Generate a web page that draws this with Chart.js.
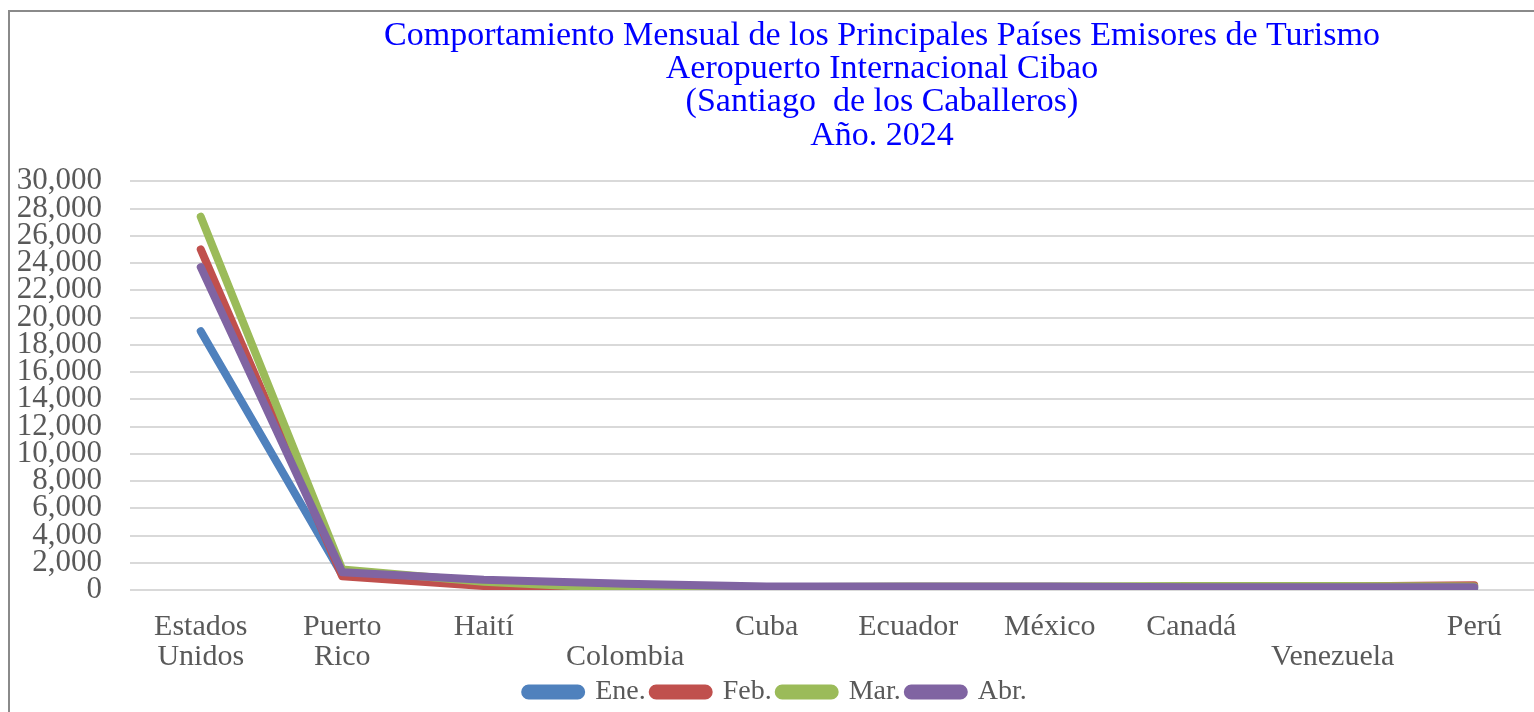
<!DOCTYPE html>
<html>
<head>
<meta charset="utf-8">
<script src="https://cdn.jsdelivr.net/npm/chart.js@4.4.1/dist/chart.umd.min.js"></script>
<style>
  html, body { margin: 0; padding: 0; background: #fff; overflow: hidden; }
  #frame {
    position: absolute; left: 8px; top: 10px; width: 1600px; height: 760px;
    border: 2px solid #8a8a8a; box-sizing: border-box;
  }
  #wrap { position: absolute; left: 0; top: 0; width: 1545px; height: 712px; }
</style>
</head>
<body>
<div id="frame"></div>
<div id="wrap"><canvas id="myChart"></canvas></div>
<script>
const labels = [
    ["Estados", "Unidos"], ["Puerto", "Rico"], "Haití", ["", "Colombia"], "Cuba",
    "Ecuador", "México", "Canadá", ["", "Venezuela"], "Perú"
];

const ene = [19000, 1100, 350, 300, 200, 200, 200, 150, 150, 150];
const feb = [25000, 1000, 300, 250, 200, 200, 200, 200, 250, 350];
const mar = [27400, 1500, 600, 100, 200, 250, 250, 300, 300, 250];
const abr = [23700, 1300, 750, 450, 250, 250, 250, 200, 200, 200];

const titleLines = [
    "Comportamiento Mensual de los Principales Países Emisores de Turismo",
    "Aeropuerto Internacional Cibao",
    "(Santiago  de los Caballeros)",
    "Año. 2024"
];

const serif = "'Liberation Serif', 'Times New Roman', serif";

// later months are painted over earlier ones, like the original
function series(label, color, values, order) {
    return {
        label: label,
        data: values,
        order: order,
        borderColor: color,
        backgroundColor: color,
        borderWidth: 8,
        borderCapStyle: "round",
        borderJoinStyle: "round",
        pointRadius: 0,
        tension: 0,
    };
}

const data = {
    labels: labels,
    datasets: [
        series("Ene.", "#4F81BD", ene, 3),
        series("Feb.", "#C0504D", feb, 2),
        series("Mar.", "#9BBB59", mar, 1),
        series("Abr.", "#8064A2", abr, 0),
    ],
};

// shift the title so it sits over the plot like the original
const shiftTitle = {
    id: "shiftTitle",
    afterLayout(chart) {
        if (chart.titleBlock) {
            chart.titleBlock.left = 230;
            chart.titleBlock.right = 1534;
        }
    }
};

const config = {
    type: "line",
    data: data,
    plugins: [shiftTitle],
    options: {
        responsive: true,
        maintainAspectRatio: false,
        animation: false,
        layout: { padding: { top: 19, left: 14, right: 0, bottom: -4 } },
        plugins: {
            title: {
                display: true,
                text: titleLines,
                color: "#0000FF",
                font: { family: serif, size: 34, weight: "normal", lineHeight: 0.98 },
                padding: { top: 0, bottom: 29 },
            },
            legend: {
                position: "bottom",
                labels: {
                    color: "#595959",
                    font: { family: serif, size: 28, lineHeight: 1.0 },
                    boxWidth: 56,
                    boxHeight: 7,
                    useBorderRadius: true,
                    borderRadius: 3.5,
                    padding: 0,
                    sort: (a, b) => a.datasetIndex - b.datasetIndex,
                    generateLabels: chart => {
                        const items = Chart.defaults.plugins.legend.labels.generateLabels(chart);
                        items.forEach(it => { it.text = it.text + " "; });
                        return items;
                    },
                },
            },
            tooltip: { enabled: false },
        },
        scales: {
            x: {
                offset: true,
                grid: { display: false },
                border: { display: false },
                afterFit: scale => { scale.height -= 8; },
                ticks: {
                    color: "#595959",
                    font: { family: serif, size: 30, lineHeight: 1.0 },
                    maxRotation: 0,
                    autoSkip: false,
                    padding: 14,
                },
            },
            y: {
                min: 0,
                max: 30000,
                grid: { color: "#d9d9d9", lineWidth: 2, drawTicks: false },
                border: { display: false },
                afterFit: scale => { scale.width = 116; },
                ticks: {
                    stepSize: 2000,
                    autoSkip: false,
                    color: "#595959",
                    font: { family: serif, size: 31 },
                    padding: 28,
                    callback: v => v.toLocaleString("en-US"),
                },
            },
        },
    },
};

new Chart(document.getElementById("myChart"), config);
</script>
</body>
</html>
